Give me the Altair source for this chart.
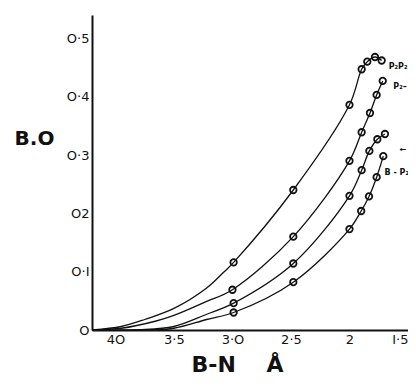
import altair as alt
import pandas as pd

# ---- data ----
series = ["s1", "s2", "s3", "s4"]

# marked points (circles)
s1_x = [2.99, 2.48, 2.00, 1.896, 1.848, 1.782, 1.725]
s1_y = [0.116, 0.240, 0.386, 0.447, 0.460, 0.468, 0.462]
s2_x = [3.00, 2.48, 2.00, 1.896, 1.825, 1.768, 1.716]
s2_y = [0.069, 0.160, 0.290, 0.339, 0.372, 0.403, 0.427]
s3_x = [2.99, 2.48, 2.00, 1.896, 1.830, 1.762, 1.697]
s3_y = [0.046, 0.114, 0.230, 0.274, 0.307, 0.327, 0.336]
s4_x = [2.99, 2.48, 2.00, 1.900, 1.833, 1.768, 1.711]
s4_y = [0.030, 0.082, 0.173, 0.204, 0.229, 0.262, 0.298]

# unmarked points tracing the curves near the origin
s1_cx = [4.20, 3.95, 3.75, 3.50, 3.22, 3.08]
s1_cy = [0.000, 0.006, 0.018, 0.037, 0.072, 0.098]
s2_cx = [4.20, 3.95, 3.66, 3.50, 3.22]
s2_cy = [0.000, 0.003, 0.015, 0.025, 0.049]
s3_cx = [4.20, 3.80, 3.50, 3.22]
s3_cy = [0.000, 0.0005, 0.006, 0.027]
s4_cx = [4.20, 3.70, 3.50, 3.22]
s4_cy = [0.000, 0.0003, 0.003, 0.018]

x_ticks = [4.0, 3.5, 3.0, 2.5, 2.0, 1.5]
x_tick_labels = ["4O", "3·5", "3·O", "2·5", "2", "I·5"]
y_ticks = [0.0, 0.1, 0.2, 0.3, 0.4, 0.5]
y_tick_labels = ["O", "O·I", "O2", "O·3", "O·4", "O·5"]

label_text = ["P₂P₂", "P₂–", "←", "B - P₂"]
label_x = [1.665, 1.625, 1.57, 1.70]
label_y = [0.451, 0.417, 0.309, 0.269]

# ---- build tables ----
marked = {"s1": (s1_x, s1_y), "s2": (s2_x, s2_y), "s3": (s3_x, s3_y), "s4": (s4_x, s4_y)}
shape = {"s1": (s1_cx, s1_cy), "s2": (s2_cx, s2_cy), "s3": (s3_cx, s3_cy), "s4": (s4_cx, s4_cy)}

pts_rows, line_rows = [], []
for s in series:
    for xv, yv in zip(*marked[s]):
        pts_rows.append({"series": s, "x": xv, "y": yv})
        line_rows.append({"series": s, "x": xv, "y": yv})
    for xv, yv in zip(*shape[s]):
        line_rows.append({"series": s, "x": xv, "y": yv})
pts = pd.DataFrame(pts_rows)
lines = pd.DataFrame(line_rows)
labels = pd.DataFrame({"x": label_x, "y": label_y, "text": label_text})


def label_expr(vals, labs):
    expr = "''"
    for v, l in zip(vals, labs):
        expr = f"(abs(datum.value - {v}) < 1e-6) ? '{l}' : ({expr})"
    return expr


xscale = alt.Scale(domain=[4.2, 1.5], nice=False, zero=False)
yscale = alt.Scale(domain=[0, 0.54], nice=False, zero=False)

xaxis = alt.Axis(
    values=x_ticks, labelExpr=label_expr(x_ticks, x_tick_labels),
    title="B-N\u00a0\u00a0\u00a0\u00a0Å", titleFontSize=22, titleFontWeight="bold",
    titleFont="DejaVu Sans", titleColor="#111",
    titleX=145, titleY=41, titleAlign="center", titleBaseline="alphabetic",
    ticks=False, domainWidth=2, domainColor="#111", grid=False,
    labelFontSize=13, labelFont="DejaVu Sans", labelColor="#111",
    labelPadding=3, labelFlush=True, labelFlushOffset=0, labelOverlap=False,
)
yaxis = alt.Axis(
    values=y_ticks, labelExpr=label_expr(y_ticks, y_tick_labels),
    title="B.O", titleAngle=0, titleFontSize=20, titleFontWeight="bold",
    titleFont="DejaVu Sans", titleColor="#111",
    titleX=-58, titleY=123, titleAlign="center", titleBaseline="middle",
    ticks=False, domainWidth=2, domainColor="#111", grid=False,
    labelFontSize=13, labelFont="DejaVu Sans", labelColor="#111",
    labelPadding=3, labelFlush=False, labelOverlap=False,
)

line_layer = alt.Chart(lines).mark_line(
    interpolate="catmull-rom", color="#111", strokeWidth=1.3
).encode(
    x=alt.X("x:Q", scale=xscale, axis=xaxis),
    y=alt.Y("y:Q", scale=yscale, axis=yaxis),
    detail="series:N",
    order=alt.Order("x:Q", sort="descending"),
)

point_layer = alt.Chart(pts).mark_point(
    shape="circle", filled=False, size=42, strokeWidth=1.8, color="#111", opacity=1
).encode(
    x=alt.X("x:Q", scale=xscale),
    y=alt.Y("y:Q", scale=yscale),
)

text_layer = alt.Chart(labels).mark_text(
    align="left", baseline="middle", fontSize=8, fontWeight="bold",
    font="DejaVu Sans", color="#111"
).encode(
    x=alt.X("x:Q", scale=xscale),
    y=alt.Y("y:Q", scale=yscale),
    text="text:N",
)

chart = alt.layer(line_layer, point_layer, text_layer).properties(
    width=316, height=315,
    autosize=alt.AutoSizeParams(type="none"),
    padding={"left": 84, "top": 7, "right": 0, "bottom": 48},
    background="white",
).configure_view(stroke=None)

chart.save("out.html", embed_options={"renderer": "svg", "actions": False})
